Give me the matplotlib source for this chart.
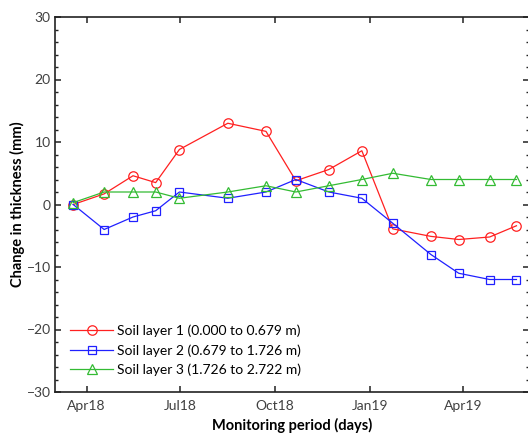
import matplotlib
matplotlib.use("Agg")
import matplotlib.pyplot as plt
import matplotlib.dates as mdates
from matplotlib.ticker import MultipleLocator
import numpy as np
import datetime as dt

plt.rcParams['font.family'] = ['Lato', 'DejaVu Sans']

dates = ["2018-03-19", "2018-04-18", "2018-05-16", "2018-06-07", "2018-06-30",
         "2018-08-16", "2018-09-22", "2018-10-21", "2018-11-22", "2018-12-24",
         "2019-01-23", "2019-03-01", "2019-03-28", "2019-04-27", "2019-05-23"]
layer1 = [0.0, 1.7, 4.6, 3.5, 8.8, 13.0, 11.7, 3.8, 5.6, 8.6, -3.9, -5.1, -5.6, -5.2, -3.4]
layer2 = [0, -4, -2, -1, 2, 1, 2, 4, 2, 1, -3, -8, -11, -12, -12]
layer3 = [0.3, 2, 2, 2, 1, 2, 3, 2, 3, 4, 5, 4, 4, 4, 4]
labels = ["Soil layer 1 (0.000 to 0.679 m)",
          "Soil layer 2 (0.679 to 1.726 m)",
          "Soil layer 3 (1.726 to 2.722 m)"]

x = np.array(dates, dtype="datetime64[D]").astype("O")

fig = plt.figure(figsize=(5.28, 4.34), dpi=100)
W, H = 528, 434
ax = fig.add_axes([55 / W, 42 / H, (529 - 55) / W, 375 / H])

ax.plot(x, layer1, color="#ff2020", lw=0.9, marker="o", ms=6.8, mfc="none",
        mec="#ff2020", mew=0.9, label=labels[0])
ax.plot(x, layer2, color="#2020ff", lw=0.9, marker="s", ms=5.2, mfc="none",
        mec="#2020ff", mew=0.9, label=labels[1])
ax.plot(x, layer3, color="#33bb33", lw=0.9, marker="^", ms=7, mfc="none",
        mec="#33bb33", mew=0.9, label=labels[2])

ax.set_xlim(dt.datetime(2018, 3, 1, 8), dt.datetime(2019, 6, 4, 4))
ax.set_ylim(-30, 30)
ax.yaxis.set_major_locator(MultipleLocator(10))
ax.yaxis.set_minor_locator(MultipleLocator(2))
ax.xaxis.set_major_locator(mdates.MonthLocator(bymonth=[1, 4, 7, 10]))
ax.xaxis.set_major_formatter(mdates.DateFormatter("%b%y"))

for s in ax.spines.values():
    s.set_linewidth(1.2)
    s.set_color("#222222")
ax.tick_params(axis="both", which="major", direction="in", length=4.5, width=1.1,
               top=True, right=True, labelsize=10, labelcolor="#404040", color="#222222")
ax.tick_params(axis="y", which="minor", direction="in", length=2.3, width=1.0,
               right=True, color="#222222")
ax.tick_params(axis="x", which="major", pad=6)
ax.tick_params(axis="y", which="major", pad=3)

ax.set_xlabel("Monitoring period (days)", fontsize=10.5, fontweight="bold", labelpad=4)
ax.set_ylabel("Change in thickness (mm)", fontsize=10.5, fontweight="bold", labelpad=1)

leg = ax.legend(loc="upper left", bbox_to_anchor=(0.02, 0.194), frameon=False,
                fontsize=10, handlelength=3.1, handletextpad=0.25, labelspacing=0.5,
                borderaxespad=0)

fig.savefig("out.png", dpi=100)
